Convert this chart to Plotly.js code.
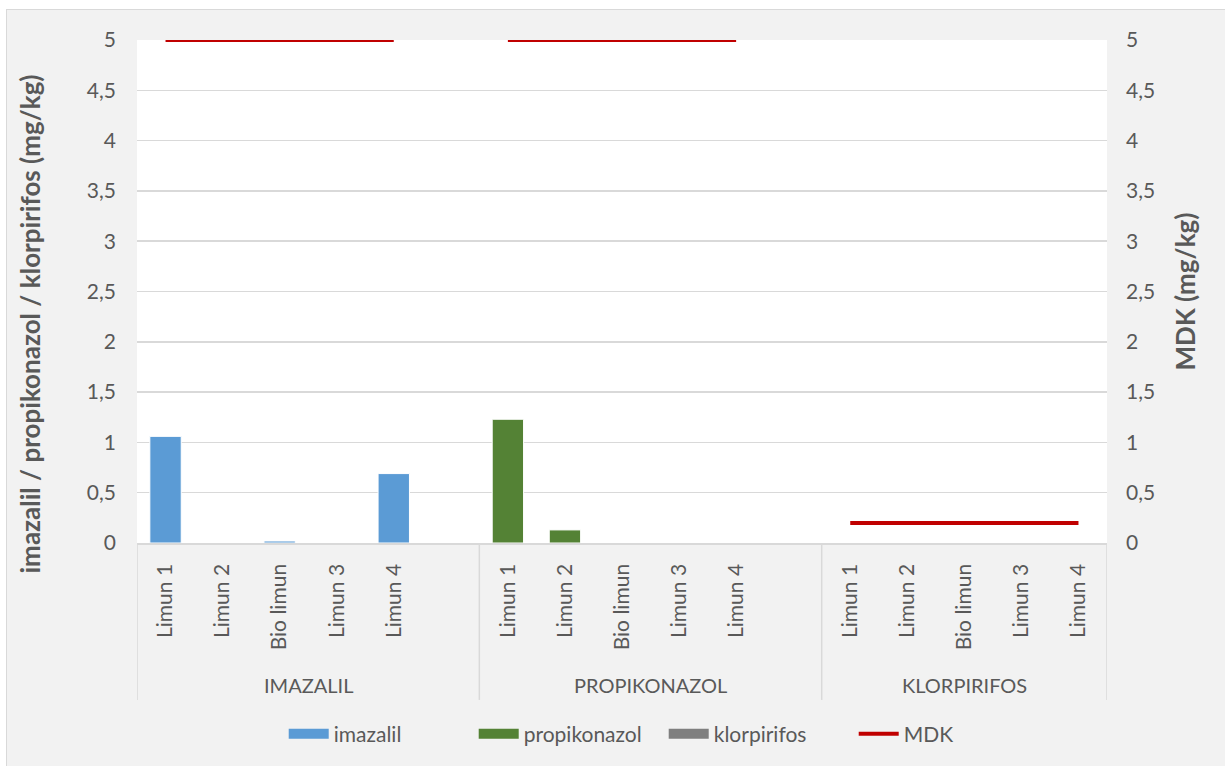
<!DOCTYPE html>
<html>
<head>
<meta charset="utf-8">
<script src="https://cdn.plot.ly/plotly-3.0.1.min.js"></script>
<style>
  html, body { margin: 0; padding: 0; background: #ffffff; }
  #frame { position: absolute; left: 6px; top: 9px; width: 1219px; height: 757px;
           border-left: 1px solid #d9d9d9; border-top: 1px solid #d9d9d9; box-sizing: border-box; }
  #chart { position: absolute; left: 7px; top: 10px; width: 1218px; height: 756px; }
</style>
</head>
<body>
<div id="frame"></div>
<div id="chart"></div>
<script>
// ---- data ----
const groups = ['IMAZALIL', 'PROPIKONAZOL', 'KLORPIRIFOS'];
const samples = ['Limun 1', 'Limun 2', 'Bio limun', 'Limun 3', 'Limun 4'];
const groupHasGap = [true, true, false];
const imazalil = [1.06, 0, 0.02, 0, 0.69];       // IMAZALIL group
const propikonazol = [1.23, 0.13, 0, 0, 0];      // PROPIKONAZOL group
const klorpirifos = [0, 0, 0, 0, 0];             // KLORPIRIFOS group
const mdk = [5, 5, 0.2];                          // per group
const seriesNames = ['imazalil', 'propikonazol', 'klorpirifos'];
const seriesColors = ['#5b9bd5', '#548235', '#7f7f7f'];
const seriesValues = [imazalil, propikonazol, klorpirifos];
const leftTitle = 'imazalil / propikonazol / klorpirifos (mg/kg)';
const rightTitle = 'MDK (mg/kg)';

// ---- build category keys ----
const allKeys = [], tickText = [], groupKeys = [], groupSpans = [];
const mdkX = [], mdkY = [];
groups.forEach((g, gi) => {
  const start = allKeys.length;
  const keys = [];
  samples.forEach(s => {
    const k = g + ' | ' + s;
    keys.push(k); allKeys.push(k); tickText.push(s);
    mdkX.push(k); mdkY.push(mdk[gi]);
  });
  if (groupHasGap[gi]) {
    const k = g + ' | gap';
    allKeys.push(k); tickText.push('');
    mdkX.push(k); mdkY.push(null);
  }
  groupKeys.push(keys);
  groupSpans.push([start - 0.5, allKeys.length - 0.5]);
});

const textColor = '#595959';
const font = 'Lato, "Open Sans", sans-serif';
const traces = [];

seriesNames.forEach((name, i) => {
  traces.push({
    type: 'bar', name: name, x: groupKeys[i], y: seriesValues[i],
    width: 0.55, showlegend: false, legendgroup: name,
    marker: { color: seriesColors[i], line: { color: '#ffffff', width: 1 } },
    hoverinfo: 'x+y'
  });
});
traces.push({
  type: 'scatter', mode: 'lines', name: 'MDK', x: mdkX, y: mdkY, yaxis: 'y2',
  connectgaps: false, showlegend: false, legendgroup: 'MDK',
  line: { color: '#c00000', width: 4 }
});
// legend entries
seriesNames.forEach((name, i) => {
  traces.push({
    type: 'scatter', mode: 'lines', name: name, x: [allKeys[0]], y: [null],
    legendgroup: name, hoverinfo: 'skip',
    line: { color: seriesColors[i], width: 12 }
  });
});
traces.push({
  type: 'scatter', mode: 'lines', name: 'MDK', x: [allKeys[0]], y: [null], yaxis: 'y2',
  legendgroup: 'MDK', hoverinfo: 'skip', line: { color: '#c00000', width: 4 }
});

const shapes = [];
const dividerX = [groupSpans[0][0]].concat(groupSpans.map(s => s[1]));
dividerX.forEach(x => {
  shapes.push({ type: 'line', xref: 'x', yref: 'paper', x0: x, x1: x, y0: 0, y1: -0.312,
                line: { color: '#d9d9d9', width: 1.5 } });
});
const annotations = groups.map((g, gi) => ({
  xref: 'x', yref: 'paper', x: (groupSpans[gi][0] + groupSpans[gi][1]) / 2, y: -0.282,
  text: g, showarrow: false, xanchor: 'center', yanchor: 'middle',
  font: { family: font, size: 20, color: textColor }
}));
annotations.push({
  xref: 'paper', yref: 'paper', x: -0.110, y: 0.435, textangle: -90,
  text: leftTitle, showarrow: false, xanchor: 'center', yanchor: 'middle',
  font: { family: font, size: 26, color: textColor, weight: 'bold' }
});

const layout = {
  width: 1218, height: 756,
  margin: { l: 130, r: 118, t: 30, b: 223 },
  paper_bgcolor: '#f2f2f2', plot_bgcolor: '#ffffff',
  separators: ', ',
  barmode: 'overlay',
  font: { family: font, size: 20, color: textColor },
  xaxis: {
    type: 'category', categoryorder: 'array', categoryarray: allKeys,
    range: [-0.5, allKeys.length - 0.5], automargin: false,
    tickmode: 'array', tickvals: allKeys, ticktext: tickText,
    tickangle: -90, ticks: '', ticklabelstandoff: 11,
    showgrid: false, showline: true, linecolor: '#d9d9d9', linewidth: 1.5,
    zeroline: false, fixedrange: true,
    tickfont: { family: font, size: 21, color: textColor }
  },
  yaxis: {
    range: [0, 5], dtick: 0.5, tick0: 0, automargin: false,
    showgrid: true, gridcolor: '#d9d9d9', gridwidth: 1.5,
    zeroline: false, showline: false, ticks: '', ticklabelstandoff: 20,
    tickfont: { family: font, size: 21, color: textColor }
  },
  yaxis2: {
    overlaying: 'y', side: 'right', automargin: false,
    range: [0, 5], dtick: 0.5, tick0: 0,
    showgrid: false, zeroline: false, showline: false, ticks: '', ticklabelstandoff: 18,
    tickfont: { family: font, size: 21, color: textColor },
    title: { text: rightTitle, standoff: 22,
             font: { family: font, size: 26, color: textColor, weight: 'bold' } }
  },
  legend: {
    orientation: 'h', x: 0.543, xanchor: 'center', y: -0.38, yanchor: 'middle',
    bgcolor: 'rgba(0,0,0,0)', font: { family: font, size: 21, color: textColor },
    itemwidth: 40, entrywidth: 135, entrywidthmode: 'pixels',
    itemclick: false, itemdoubleclick: false
  },
  shapes: shapes,
  annotations: annotations,
  showlegend: true
};

Plotly.newPlot('chart', traces, layout, { displayModeBar: false, staticPlot: true });
</script>
</body>
</html>
